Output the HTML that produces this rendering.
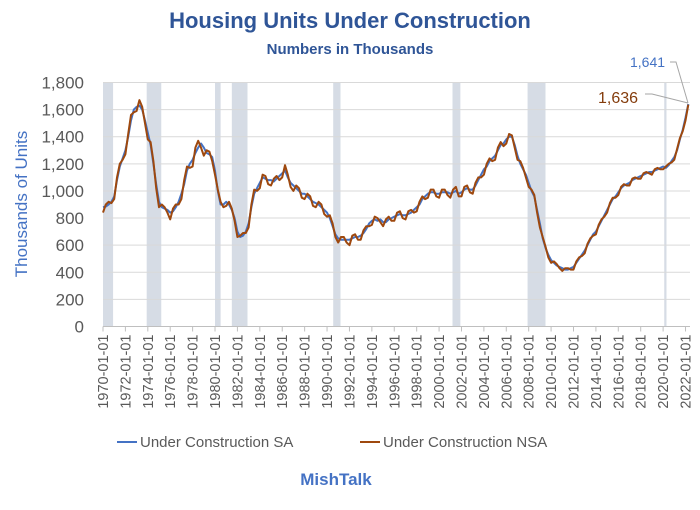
<!DOCTYPE html>
<html><head><meta charset="utf-8"><style>
body{margin:0;background:#fff;}
svg text{font-family:"Liberation Sans",sans-serif;}
</style></head><body>
<svg id="c" width="700" height="505" xmlns="http://www.w3.org/2000/svg">
<text x="350" y="28" text-anchor="middle" font-size="22" font-weight="bold" fill="#2F5597">Housing Units Under Construction</text>
<text x="350" y="54" text-anchor="middle" font-size="15" font-weight="bold" fill="#2F5597">Numbers in Thousands</text>
<text transform="translate(27,204) rotate(-90)" text-anchor="middle" font-size="17" fill="#4472C4">Thousands of Units</text>
<g id="rec"></g><g id="grid"></g><g id="xt"></g><g id="yt"></g><g id="lines"></g>
<line x1="117" y1="442" x2="137" y2="442" stroke="#4472C4" stroke-width="2"/>
<text x="140" y="447" font-size="15" fill="#595959">Under Construction SA</text>
<line x1="360" y1="442" x2="380" y2="442" stroke="#9E480E" stroke-width="2"/>
<text x="383" y="447" font-size="15" fill="#595959">Under Construction NSA</text>
<text x="336" y="485" text-anchor="middle" font-size="17" font-weight="bold" fill="#4472C4">MishTalk</text>
<text x="630" y="67" font-size="14" fill="#4472C4">1,641</text>
<text x="598" y="103" font-size="16" fill="#843C0C">1,636</text>
<polyline points="670,62 676,62 688,103" fill="none" stroke="#A6A6A6"/>
<polyline points="645,94 652,94 688,103" fill="none" stroke="#A6A6A6"/>
</svg>
<script>
const yTicks=[0,200,400,600,800,1000,1200,1400,1600,1800];
const xTickYears=[1970,1972,1974,1976,1978,1980,1982,1984,1986,1988,1990,1992,1994,1996,1998,2000,2002,2004,2006,2008,2010,2012,2014,2016,2018,2020,2022];
const recStart=[1970.0,1973.9,1980.0,1981.5,1990.55,2001.2,2007.9,2020.1];
const recEnd=[1970.9,1975.2,1980.5,1982.9,1991.2,2001.9,2009.5,2020.3];
const startYear=1970;
const sa=[880,885,900,920,960,1080,1180,1240,1300,1400,1520,1600,1620,1630,1600,1520,1430,1340,1200,1050,920,880,870,860,840,850,880,920,980,1050,1150,1200,1230,1280,1320,1350,1320,1280,1270,1250,1150,1000,900,900,920,900,860,800,700,660,670,700,760,880,980,1020,1060,1100,1090,1080,1080,1070,1090,1110,1130,1150,1100,1060,1040,1020,1000,980,980,960,940,920,910,900,880,860,840,800,740,680,650,640,640,640,640,650,660,660,670,690,720,760,780,790,780,790,770,770,790,800,810,820,830,820,820,830,840,860,880,900,940,960,980,990,990,980,980,990,990,990,980,990,1000,980,990,1010,1020,1010,1010,1040,1080,1120,1160,1180,1220,1240,1260,1300,1340,1350,1380,1400,1400,1340,1260,1200,1160,1120,1060,1000,960,860,760,650,580,530,490,470,450,440,430,420,420,430,440,470,500,530,560,600,640,680,700,740,780,820,860,900,940,960,990,1020,1040,1050,1060,1080,1090,1100,1110,1120,1130,1140,1140,1150,1160,1170,1180,1170,1190,1220,1250,1300,1380,1450,1540,1641];
const nsa=[840,900,920,910,940,1100,1200,1230,1270,1420,1560,1580,1590,1670,1620,1500,1380,1360,1220,1020,880,900,880,840,790,870,900,900,940,1080,1180,1170,1180,1320,1370,1320,1260,1300,1290,1220,1120,1010,920,880,890,920,870,780,660,670,690,690,730,900,1010,1000,1020,1120,1110,1050,1040,1090,1110,1080,1100,1190,1120,1030,1000,1040,1020,950,940,980,960,890,880,920,900,830,810,820,760,660,620,660,660,620,600,670,680,640,640,710,740,740,750,810,800,770,740,790,810,780,780,840,850,800,790,850,860,840,850,920,960,940,950,1010,1010,960,950,1010,1010,970,950,1010,1030,960,960,1030,1040,990,980,1060,1100,1100,1120,1200,1240,1220,1230,1320,1360,1330,1350,1420,1410,1320,1230,1220,1170,1100,1030,1010,970,840,730,660,590,510,470,480,460,430,410,430,430,420,420,480,510,520,540,610,650,670,680,750,790,810,840,910,950,950,970,1030,1050,1040,1040,1090,1100,1090,1090,1130,1140,1130,1120,1160,1170,1160,1160,1180,1200,1210,1230,1310,1390,1440,1520,1636];
const NS='http://www.w3.org/2000/svg';
const X0=103,X1=690,Y0=326.5,Y1=82.5;
const xs=t=>X0+(t-1970)*(X1-X0)/52.4;
const ys=v=>Y0-v*(Y0-Y1)/1800;
function mk(tag,attrs,parent){const e=document.createElementNS(NS,tag);for(const k in attrs)e.setAttribute(k,attrs[k]);document.getElementById(parent).appendChild(e);return e;}
recStart.forEach((s,i)=>{const w=Math.max(2,xs(recEnd[i])-xs(s));
const r=mk('rect',{x:xs(s),y:Y1,width:w,height:Y0-Y1,fill:'#D6DCE5'},'rec');

});
yTicks.forEach(v=>{if(v>0){const l=mk('line',{x1:X0,x2:X1,y1:ys(v),y2:ys(v),stroke:'#D9D9D9'},'grid');

}
const t=mk('text',{x:84,y:ys(v)+6,'text-anchor':'end','font-size':'17',fill:'#595959'},'yt');t.textContent=v.toLocaleString('en-US');

});
const ax=mk('line',{x1:X0,x2:X1,y1:Y0,y2:Y0,stroke:'#BFBFBF'},'grid');


xTickYears.forEach(y=>{const x=xs(y);
const tk=mk('line',{x1:x,x2:x,y1:Y0,y2:Y0+5,stroke:'#BFBFBF'},'xt');


const t=mk('text',{transform:`translate(${x+5},${Y0+8}) rotate(-90)`,'text-anchor':'end','font-size':'14.5',fill:'#595959'},'xt');t.textContent=y+'-01-01';

});
function pts(a){return a.map((v,i)=>xs(startYear+i/4).toFixed(1)+','+ys(v).toFixed(1)).join(' ');}
const l1=mk('polyline',{points:pts(sa),fill:'none',stroke:'#4472C4','stroke-width':'2','stroke-linejoin':'round'},'lines');


const l2=mk('polyline',{points:pts(nsa),fill:'none',stroke:'#9E480E','stroke-width':'2','stroke-linejoin':'round'},'lines');


</script>
</body></html>
